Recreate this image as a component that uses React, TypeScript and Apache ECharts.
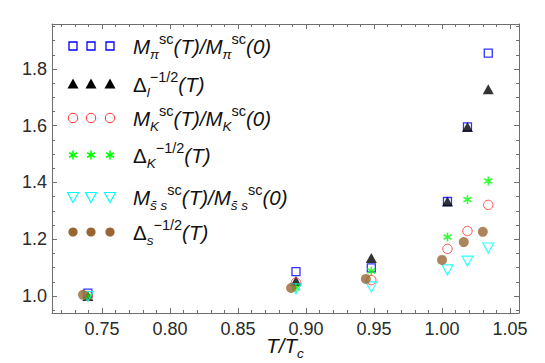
import React, { useEffect, useRef } from "react";
import * as echarts from "echarts";

const FF = "'Liberation Sans', Arial, sans-serif";

// x positions (T/Tc) of the data groups
const xMain = [0.7396, 0.8926, 0.948, 1.004, 1.0187, 1.034];
const xBrown = [0.736, 0.889, 0.944, 1.0, 1.016, 1.03];

// series values
const piRatio = [1.01, 1.086, 1.099, 1.333, 1.596, 1.856];
const deltaL = [1.0, 1.053, 1.134, 1.333, 1.596, 1.729];
const kRatio = [1.0, 1.047, 1.056, 1.166, 1.229, 1.321];
const deltaK = [0.998, 1.029, 1.088, 1.208, 1.34, 1.405];
const ssRatio = [0.998, 1.025, 1.032, 1.092, 1.123, 1.169];
const deltaS = [1.004, 1.028, 1.06, 1.127, 1.19, 1.226];

// tick values
const xMajor = [0.75, 0.8, 0.85, 0.9, 0.95, 1.0, 1.05];
const yMajor = [1.0, 1.2, 1.4, 1.6, 1.8];
const xMinor: number[] = [];
for (let i = 72; i <= 105; i++) if (i % 5 !== 0) xMinor.push(i / 100);
const yMinor: number[] = [];
for (let i = 19; i <= 39; i++) if (i % 4 !== 0) yMinor.push(i / 20);

const X_MIN = 0.7132;
const X_MAX = 1.0566;
const Y_MIN = 0.94;
const Y_MAX = 1.9586;

const FRAME = "#6e6e6e";
const BLUE = "#0000ff";
const RED = "#ff2a2a";
const GREEN = "#00ff00";
const CYAN = "#00ffff";
const BROWN = "#996633";

const ASTER = "path://M5,0L5,10M0.67,2.5L9.33,7.5M0.67,7.5L9.33,2.5";

function pts(xs: number[], ys: number[]) {
  return xs.map((x, i) => [x, ys[i]]);
}

const rich: any = {
  i: { fontStyle: "italic", fontSize: 20.5, fontFamily: FF, fill: "#111", lineHeight: 30 },
  u: { fontSize: 20.5, fontFamily: FF, fill: "#111", lineHeight: 30 },
  sup: { fontSize: 14.5, fontFamily: FF, fill: "#111", lineHeight: 16, verticalAlign: "top" },
  sub: { fontStyle: "italic", fontSize: 13.5, fontFamily: FF, fill: "#111", lineHeight: 13, verticalAlign: "bottom" },
};

const legendTexts = [
  "{i|M}{sub|π}{sup|sc}{i|(T)/M}{sub|π}{sup|sc}{i|(0)}",
  "{u|Δ}{sub|l}{sup|−1/2}{i|(T)}",
  "{i|M}{sub|K}{sup|sc}{i|(T)/M}{sub|K}{sup|sc}{i|(0)}",
  "{u|Δ}{sub|K}{sup|−1/2}{i|(T)}",
  "{i|M}{sub|s\u0304 s}{sup|sc}{i|(T)/M}{sub|s\u0304 s}{sup|sc}{i|(0)}",
  "{u|Δ}{sub|s}{sup|−1/2}{i|(T)}",
];
const legendRows = [46, 84, 118, 155, 197, 232];
const legendXs = [73, 91, 110];

function marker(kind: number, cx: number, cy: number): any {
  switch (kind) {
    case 0:
      return { type: "rect", shape: { x: cx - 4, y: cy - 4, width: 8, height: 8 }, style: { fill: "none", stroke: BLUE, lineWidth: 1.3 } };
    case 1:
      return { type: "polygon", shape: { points: [[cx, cy - 5.5], [cx + 5.5, cy + 4.5], [cx - 5.5, cy + 4.5]] }, style: { fill: "#000" } };
    case 2:
      return { type: "circle", shape: { cx, cy, r: 4.7 }, style: { fill: "none", stroke: RED, lineWidth: 1 } };
    case 3:
      return {
        type: "group",
        children: [
          { type: "line", shape: { x1: cx, y1: cy - 4.5, x2: cx, y2: cy + 4.5 }, style: { stroke: GREEN, lineWidth: 1.6 } },
          { type: "line", shape: { x1: cx - 3.9, y1: cy - 2.25, x2: cx + 3.9, y2: cy + 2.25 }, style: { stroke: GREEN, lineWidth: 1.6 } },
          { type: "line", shape: { x1: cx - 3.9, y1: cy + 2.25, x2: cx + 3.9, y2: cy - 2.25 }, style: { stroke: GREEN, lineWidth: 1.6 } },
        ],
      };
    case 4:
      return { type: "polygon", shape: { points: [[cx - 5.5, cy - 4.5], [cx + 5.5, cy - 4.5], [cx, cy + 5.5]] }, style: { fill: "none", stroke: CYAN, lineWidth: 1.2 } };
    default:
      return { type: "circle", shape: { cx, cy, r: 4.6 }, style: { fill: BROWN } };
  }
}

export default function App() {
  const ref = useRef<HTMLDivElement>(null);
  useEffect(() => {
    if (!ref.current) return;
    const chart = echarts.init(ref.current, null, { renderer: "svg" });

    const baseX = { type: "value", min: X_MIN, max: X_MAX, splitLine: { show: false } };
    const baseY = { type: "value", min: Y_MIN, max: Y_MAX, splitLine: { show: false } };
    const lineStyle = { color: FRAME, width: 1 };
    const axisLabel = { color: "#2a2a2a", fontSize: 18, fontFamily: FF };

    const graphics: any[] = [];
    legendRows.forEach((y, r) => {
      legendXs.forEach((x) => graphics.push(marker(r, x, y)));
      graphics.push({
        type: "text",
        x: 133,
        y,
        style: { text: legendTexts[r], rich, verticalAlign: "middle", align: "left" },
      });
    });
    graphics.push({
      type: "text",
      x: 285,
      y: 345,
      style: { text: "{i|T/T}{sub|c}", rich, verticalAlign: "middle", align: "center" },
    });

    chart.setOption({
      animation: false,
      backgroundColor: "#fff",
      grid: { left: 52, right: 26, top: 24, bottom: 50 },
      xAxis: [
        { ...baseX, position: "bottom", axisLine: { show: true, lineStyle }, axisTick: { inside: true, length: 5, lineStyle, customValues: xMajor }, axisLabel: { ...axisLabel, margin: 7, customValues: xMajor, formatter: (v: number) => v.toFixed(2) } },
        { ...baseX, position: "bottom", axisLine: { show: false }, axisTick: { inside: true, length: 3, lineStyle, customValues: xMinor }, axisLabel: { show: false } },
        { ...baseX, position: "top", axisLine: { show: true, lineStyle }, axisTick: { inside: true, length: 5, lineStyle, customValues: xMajor }, axisLabel: { show: false } },
        { ...baseX, position: "top", axisLine: { show: false }, axisTick: { inside: true, length: 3, lineStyle, customValues: xMinor }, axisLabel: { show: false } },
      ],
      yAxis: [
        { ...baseY, position: "left", axisLine: { show: true, lineStyle }, axisTick: { inside: true, length: 5, lineStyle, customValues: yMajor }, axisLabel: { ...axisLabel, margin: 5, customValues: yMajor, formatter: (v: number) => v.toFixed(1) } },
        { ...baseY, position: "left", axisLine: { show: false }, axisTick: { inside: true, length: 3, lineStyle, customValues: yMinor }, axisLabel: { show: false } },
        { ...baseY, position: "right", axisLine: { show: true, lineStyle }, axisTick: { inside: true, length: 5, lineStyle, customValues: yMajor }, axisLabel: { show: false } },
        { ...baseY, position: "right", axisLine: { show: false }, axisTick: { inside: true, length: 3, lineStyle, customValues: yMinor }, axisLabel: { show: false } },
      ],
      series: [
        { type: "scatter", name: "piRatio", data: pts(xMain, piRatio), symbol: "rect", symbolSize: 8, itemStyle: { color: "none", borderColor: BLUE, borderWidth: 1.3 } },
        { type: "scatter", name: "deltaL", data: pts(xMain, deltaL), symbol: "triangle", symbolSize: [11, 10], itemStyle: { color: "#000" } },
        { type: "scatter", name: "kRatio", data: pts(xMain, kRatio), symbol: "circle", symbolSize: 9.4, itemStyle: { color: "none", borderColor: RED, borderWidth: 1 } },
        { type: "scatter", name: "deltaK", data: pts(xMain, deltaK), symbol: ASTER, symbolSize: [8, 9], itemStyle: { color: "none", borderColor: GREEN, borderWidth: 1.6 } },
        { type: "scatter", name: "ssRatio", data: pts(xMain, ssRatio), symbol: "triangle", symbolRotate: 180, symbolSize: [11, 10], itemStyle: { color: "none", borderColor: CYAN, borderWidth: 1.2 } },
        { type: "scatter", name: "deltaS", data: pts(xBrown, deltaS), symbol: "circle", symbolSize: 10, itemStyle: { color: BROWN } },
      ],
      graphic: graphics,
    });
    return () => chart.dispose();
  }, []);
  return <div ref={ref} style={{ width: 545, height: 363, position: "absolute", left: 0, top: 0 }} />;
}
